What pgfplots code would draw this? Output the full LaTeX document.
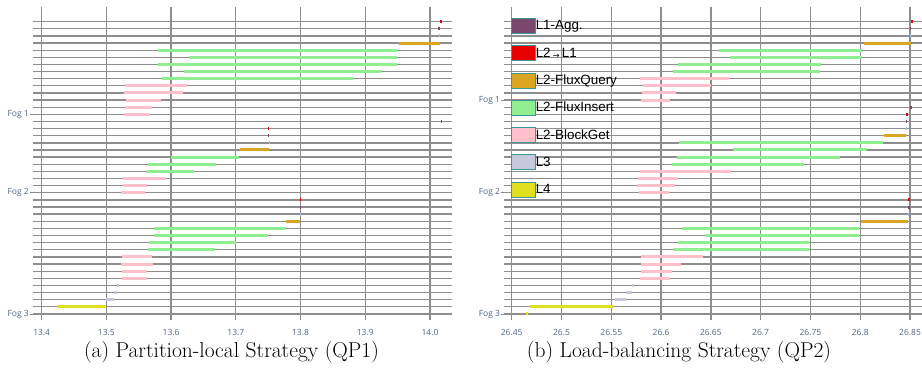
\documentclass[border=0pt]{standalone}
\usepackage{pgfplots}
\pgfplotsset{compat=1.18}
\usepackage{fontspec}
\newfontfamily\osans{Open Sans}
\newfontfamily\arialf{Liberation Sans}
\newfontfamily\djv{DejaVu Sans}
\definecolor{tickc}{RGB}{80,103,132}
\definecolor{gridc}{RGB}{142,142,142}
\definecolor{cagg}{RGB}{122,72,108}
\definecolor{cred}{RGB}{230,0,0}
\definecolor{cquery}{RGB}{218,165,32}
\definecolor{cinsert}{RGB}{144,238,144}
\definecolor{cblock}{RGB}{255,192,203}
\definecolor{cl3}{RGB}{200,200,220}
\definecolor{cl4}{RGB}{224,224,32}
\definecolor{cblue}{RGB}{160,190,225}
\definecolor{cborder}{RGB}{60,150,150}
\pgfplotsset{
  gantt/.style={
    scale only axis, height=313pt,
    ymin=-0.85, ymax=43.06,
    axis line style={draw=none},
    xmajorgrids, ymajorgrids, yminorgrids,
    minor ytick={0,...,41},
    major grid style={draw=gridc, line width=1.3pt},
    minor grid style={draw=gridc, line width=1.3pt},
    xtick style={draw=none},
    ytick style={draw=gridc, line width=0.8pt},
    minor tick length=0pt,
    major tick length=3pt, tick align=outside,
    tick pos=left,
    xticklabel style={font=\osans\fontsize{8.5}{9}\selectfont, text=tickc, inner sep=0pt, yshift=-6pt},
    yticklabel style={font=\osans\fontsize{8.5}{9}\selectfont, text=tickc, inner sep=1pt},
    unbounded coords=jump,
  },
  seg/.style={line width=3pt, mark=none, line cap=butt},
}
\begin{document}
\begin{tikzpicture}
\useasboundingbox (0,0) rectangle (922pt,373pt);
% ---------------- (a) ----------------
\begin{axis}[gantt, at={(33pt,53pt)}, anchor=south west, width=419pt,
  xmin=13.3866, xmax=14.034,
  xtick={13.4,13.5,13.6,13.7,13.8,13.9,14.0},
  xticklabels={13.4,13.5,13.6,13.7,13.8,13.9,14.0},
  ytick={0,17,28}, yticklabels={Fog 3,Fog 2,Fog 1}]
% L2-FluxInsert
\addplot[seg, cinsert] table {
13.579 37
13.949 37
nan nan
13.627 36
13.949 36
nan nan
13.580 35
13.949 35
nan nan
13.620 34
13.925 34
nan nan
13.586 33
13.881 33
nan nan
13.600 22
13.705 22
nan nan
13.565 21
13.670 21
nan nan
13.563 20
13.636 20
nan nan
13.574 12
13.776 12
nan nan
13.574 11
13.750 11
nan nan
13.566 10
13.701 10
nan nan
13.565 9
13.668 9
};
% L2-BlockGet
\addplot[seg, cblock] table {
13.529 32
13.624 32
nan nan
13.527 31
13.618 31
nan nan
13.530 30
13.584 30
nan nan
13.529 29
13.571 29
nan nan
13.527 28
13.567 28
nan nan
13.526 19
13.592 19
nan nan
13.525 18
13.562 18
nan nan
13.523 17
13.560 17
nan nan
13.524 8
13.571 8
nan nan
13.523 7
13.572 7
nan nan
13.524 6
13.563 6
nan nan
13.524 5
13.563 5
};
% L2-FluxQuery
\addplot[seg, cquery] table {
13.952 38
14.015 38
nan nan
13.706 23
13.751 23
nan nan
13.778 13
13.799 13
};
% L2 -> L1
\addplot[seg, cred] table {
14.016 41
14.019 41
nan nan
13.750 26
13.752 26
nan nan
13.799 16
13.801 16
};
% L1-Agg.
\addplot[seg, cagg] table {
14.013 40
14.015 40
nan nan
14.017 27
14.019 27
nan nan
13.750 25
13.752 25
nan nan
13.799 15
13.801 15
};
% small blue marks
\addplot[seg, cblue] table {
14.0135 39
14.015 39
nan nan
13.7505 24
13.752 24
nan nan
13.7985 14
13.800 14
};
% L3
\addplot[seg, cl3] table {
13.517 4
13.520 4
nan nan
13.512 3
13.517 3
nan nan
13.500 2
13.512 2
};
% L4
\addplot[seg, cl4] table {
13.424 1
13.500 1
};
\end{axis}
% ---------------- (b) ----------------
\begin{axis}[gantt, at={(504.3pt,53pt)}, anchor=south west, width=417.4pt,
  xmin=26.4426, xmax=26.8617,
  xtick={26.45,26.5,26.55,26.6,26.65,26.7,26.75,26.8,26.85},
  xticklabels={26.45,26.5,26.55,26.6,26.65,26.7,26.75,26.8,26.85},
  ytick={0,17,30}, yticklabels={Fog 3,Fog 2,Fog 1},
  legend style={at={(0.016,0.965)}, anchor=north west, draw=none, fill=none,
    inner sep=0pt, outer sep=0pt, row sep=11.5pt,
    font=\arialf\fontsize{13.4}{13.4}\selectfont,
    nodes={inner sep=0pt, anchor=west},
    /tikz/every even column/.append style={column sep=4pt}},
  legend cell align=left,
  legend image code/.code={\draw[#1] (0pt,-7.5pt) rectangle (24pt,7.5pt);}]
\addlegendimage{fill=cagg, draw=cborder, line width=0.8pt}
\addlegendentry{L1-Agg.}
\addlegendimage{fill=cred, draw=cborder, line width=0.8pt}
\addlegendentry{L2\,\raisebox{-1pt}{\djv\fontsize{8}{8}\selectfont →}\,L1}
\addlegendimage{fill=cquery, draw=cborder, line width=0.8pt}
\addlegendentry{L2-FluxQuery}
\addlegendimage{fill=cinsert, draw=cborder, line width=0.8pt}
\addlegendentry{L2-FluxInsert}
\addlegendimage{fill=cblock, draw=cborder, line width=0.8pt}
\addlegendentry{L2-BlockGet}
\addlegendimage{fill=cl3, draw=cborder, line width=0.8pt}
\addlegendentry{L3}
\addlegendimage{fill=cl4, draw=cborder, line width=0.8pt}
\addlegendentry{L4}
% L2-FluxInsert
\addplot[seg, cinsert, forget plot] table {
26.6584 37
26.8014 37
nan nan
26.6692 36
26.8014 36
nan nan
26.6173 35
26.7605 35
nan nan
26.6123 34
26.7592 34
nan nan
26.6180 24
26.8225 24
nan nan
26.6719 23
26.8064 23
nan nan
26.6160 22
26.7796 22
nan nan
26.6110 21
26.7435 21
nan nan
26.6210 12
26.7990 12
nan nan
26.6450 11
26.7990 11
nan nan
26.6170 10
26.7488 10
nan nan
26.6120 9
26.7488 9
};
% L2-BlockGet
\addplot[seg, cblock, forget plot] table {
26.5788 33
26.6679 33
nan nan
26.5818 32
26.6498 32
nan nan
26.5805 31
26.6146 31
nan nan
26.5798 30
26.6089 30
nan nan
26.5788 20
26.6705 20
nan nan
26.5768 19
26.6167 19
nan nan
26.5761 18
26.6137 18
nan nan
26.5778 17
26.6079 17
nan nan
26.5798 8
26.6424 8
nan nan
26.5798 7
26.6197 7
nan nan
26.5798 6
26.6106 6
nan nan
26.5788 5
26.6086 5
};
% L2-FluxQuery
\addplot[seg, cquery, forget plot] table {
26.8037 38
26.8506 38
nan nan
26.8238 25
26.8460 25
nan nan
26.8007 13
26.8476 13
};
% L2 -> L1
\addplot[seg, cred, forget plot] table {
26.8506 41
26.8526 41
nan nan
26.8456 28
26.8476 28
nan nan
26.8480 16
26.8500 16
};
% L1-Agg.
\addplot[seg, cagg, forget plot] table {
26.8495 40
26.8510 40
nan nan
26.8500 29
26.8515 29
nan nan
26.8455 27
26.8470 27
nan nan
26.8480 15
26.8495 15
};
% small blue marks
\addplot[seg, cblue, forget plot] table {
26.8500 39
26.8510 39
nan nan
26.8456 26
26.8466 26
nan nan
26.8480 14
26.8490 14
};
% L3
\addplot[seg, cl3, forget plot] table {
26.5708 4
26.5725 4
nan nan
26.5648 3
26.5708 3
nan nan
26.5537 2
26.5648 2
};
% L4
\addplot[seg, cl4, forget plot] table {
26.4674 1
26.5527 1
nan nan
26.4644 0
26.4660 0
};
\end{axis}
\node[font=\fontsize{21.5}{24}\selectfont, anchor=center] at (231.5pt,21pt) {(a) Partition-local Strategy (QP1)};
\node[font=\fontsize{21.5}{24}\selectfont, anchor=center] at (679pt,21pt) {(b) Load-balancing Strategy (QP2)};
\end{tikzpicture}
\end{document}
